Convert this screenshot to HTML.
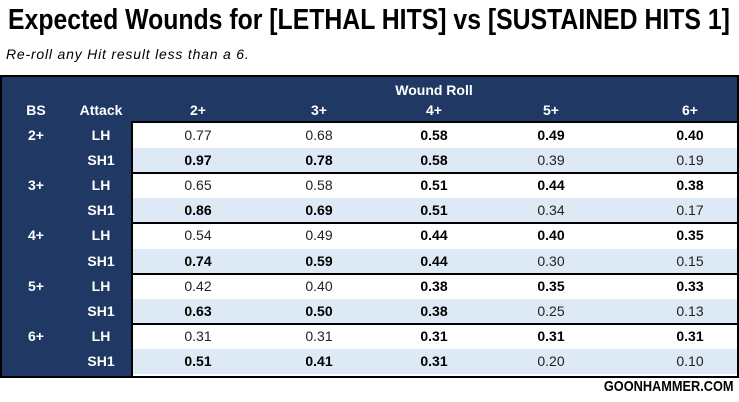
<!DOCTYPE html>
<html><head><style>
body{margin:0;width:739px;height:402px;background:#fff;position:relative;overflow:hidden;font-family:"Liberation Sans",sans-serif}
.t{position:absolute;white-space:nowrap}
#title{left:8px;top:4px;font-size:29px;font-weight:bold;color:#000;transform-origin:0 0;transform:scaleX(0.855)}
#sub{left:6px;top:46px;font-size:14px;font-style:italic;color:#000;letter-spacing:0.8px}
#panel{position:absolute;left:0;top:75px;width:735px;height:299px;background:#1f3864;border:2px solid #000}
.h{color:#fff;font-weight:bold;font-size:14px;position:absolute;transform:translateX(-50%)}
#data{position:absolute;left:131px;top:121px;width:604px;height:253px;background:#fff;border-left:2px solid #000;border-top:2px solid #000}
.b{font-weight:bold;color:#000}
.sep{position:absolute;left:131px;width:606px;height:2px;background:#000}
#foot{right:6px;top:378px;font-size:15px;font-weight:bold;transform-origin:100% 0;transform:scaleX(0.85)}
</style></head><body>
<div class="t" id="title">Expected Wounds for [LETHAL HITS] vs [SUSTAINED HITS 1]</div>
<div class="t" id="sub">Re-roll any Hit result less than a 6.</div>
<div id="panel"></div>
<div class="h" style="left:434px;top:82px">Wound Roll</div>
<div class="h" style="left:36px;top:102px">BS</div>
<div class="h" style="left:101px;top:102px">Attack</div>
<div class="h" style="left:198px;top:102px">2+</div>
<div class="h" style="left:319px;top:102px">3+</div>
<div class="h" style="left:434px;top:102px">4+</div>
<div class="h" style="left:551px;top:102px">5+</div>
<div class="h" style="left:690px;top:102px">6+</div>
<div id="data"></div>
<div id="rows"></div>
<script>
var d=[
["2+","LH",["0.77","0.68","*0.58","*0.49","*0.40"]],
["","SH1",["*0.97","*0.78","*0.58","0.39","0.19"]],
["3+","LH",["0.65","0.58","*0.51","*0.44","*0.38"]],
["","SH1",["*0.86","*0.69","*0.51","0.34","0.17"]],
["4+","LH",["0.54","0.49","*0.44","*0.40","*0.35"]],
["","SH1",["*0.74","*0.59","*0.44","0.30","0.15"]],
["5+","LH",["0.42","0.40","*0.38","*0.35","*0.33"]],
["","SH1",["*0.63","*0.50","*0.38","0.25","0.13"]],
["6+","LH",["0.31","0.31","*0.31","*0.31","*0.31"]],
["","SH1",["*0.51","*0.41","*0.31","0.20","0.10"]]];
var xs=[198,319,434,551,690],h="";
for(var i=0;i<10;i++){var y=123+i*25.1;
 if(i%2==1)h+='<div style="position:absolute;left:133px;top:'+y+'px;width:604px;height:25px;background:#dde9f4"></div>';
 if(d[i][0])h+='<div class="h" style="left:36px;top:'+(y+4)+'px">'+d[i][0]+'</div>';
 h+='<div class="h" style="left:101px;top:'+(y+4)+'px">'+d[i][1]+'</div>';
 for(var j=0;j<5;j++){var v=d[i][2][j],b=v[0]=='*';if(b)v=v.slice(1);
  h+='<div class="t'+(b?' b':'')+'" style="left:'+xs[j]+'px;top:'+(y+4)+'px;font-size:14px;transform:translateX(-50%);color:'+(b?'#000':'#222')+'">'+v+'</div>';}
 if(i%2==1&&i<9)h+='<div class="sep" style="top:'+(y+24)+'px"></div>';
}
document.getElementById('rows').innerHTML=h;
</script>
<div class="t" id="foot">GOONHAMMER.COM</div>
</body></html>
